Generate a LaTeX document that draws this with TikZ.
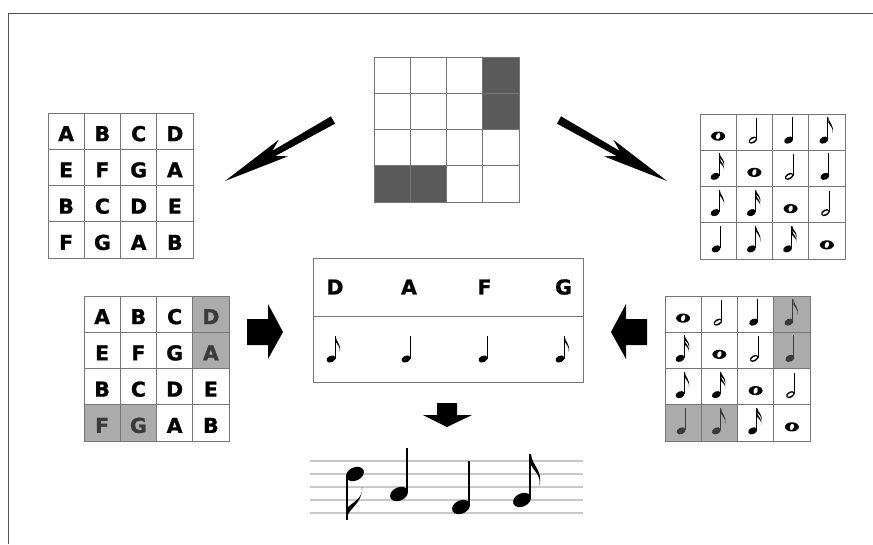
\documentclass[tikz,border=0pt]{standalone}
\usepackage{fontspec}
\setmainfont{Liberation Sans}
\newfontfamily\lettersfont{DejaVu Sans Bold}[FakeBold=1]
\usetikzlibrary{calc}
\definecolor{gridline}{HTML}{767676}
\definecolor{darkcell}{HTML}{5A5A5A}
\definecolor{hlfill}{HTML}{ABABAB}
\definecolor{hltext}{HTML}{3A3A3A}
\definecolor{staffgray}{HTML}{C8C8C8}
\definecolor{framegray}{HTML}{505050}
\newcommand\mqbody{\fill[rotate=25] (0,0) ellipse (4.7 and 3.3); \fill (3.5,-0.5) rectangle (4.5,-23);}
\tikzset{
  gcell/.style={draw=gridline, line width=0.9pt, minimum size=36.25pt, inner sep=0pt, outer sep=0pt,
    font=\lettersfont\fontsize{20.5}{24}\selectfont, text height=20pt, text depth=0pt},
  hlcell/.style={gcell, fill=hlfill, text=hltext},
  darkc/.style={gcell, fill=darkcell},
  boxlabel/.style={font=\lettersfont\fontsize{20.5}{24}\selectfont, inner sep=0pt},
  mainbox/.style={draw=gridline, line width=1pt, minimum width=270pt, minimum height=124pt, inner sep=0pt},
  blockarrow/.style={fill=black},
  staffline/.style={draw=staffgray, line width=1.4pt},
  framestyle/.style={draw=framegray, line width=1pt},
  % note heads with origin at head centre
  hq/.pic={\mqbody},
  hw/.pic={\fill (0,0) ellipse (7 and 4.6); \fill[white, rotate=-20] (0,0) ellipse (2.0 and 3.2);},
  hh/.pic={\fill[rotate=30] (0,0) ellipse (4.7 and 3.1); \fill[white, rotate=30] (0,0) ellipse (3.4 and 1.3);
           \fill (3.4,-0.5) rectangle (4.4,-22);},
  he/.pic={\mqbody \fill (4.5,-23) .. controls (5,-17) and (10.5,-15) .. (8.8,-7) .. controls (9.5,-12.5) and (6,-14.5) .. (4.5,-17.5) -- cycle;},
  hs/.pic={\mqbody
           \fill (4.5,-23) .. controls (5,-18.5) and (10,-17) .. (9,-11) .. controls (9.2,-14.5) and (6.5,-16) .. (4.5,-18.5) -- cycle;
           \fill (4.5,-18.5) .. controls (5,-14) and (10,-12.5) .. (8.8,-6) .. controls (9.2,-10) and (6.5,-11.5) .. (4.5,-14) -- cycle;},
  hedown/.pic={\fill[rotate=25] (0,0) ellipse (4.7 and 3.3); \fill (-4.5,0.5) rectangle (-3.5,23);
           \fill (-4.5,23) .. controls (-3.6,17) and (4,15) .. (3.5,6.5) .. controls (4.3,12.5) and (-2,14.5) .. (-4.5,17.5) -- cycle;},
  % notes placed relative to a cell centre
  cw/.pic={\pic at (0,4) {hw};},
  ch/.pic={\pic at (-1.5,8) {hh};},
  cq/.pic={\pic at (-2,8) {hq};},
  ce/.pic={\pic at (-3,8) {he};},
  cs/.pic={\pic at (-3,8) {hs};},
}
\begin{document}
\begin{tikzpicture}[x=1pt, y=-1pt]
\useasboundingbox (0,0) rectangle (873,544);
% frame
\coordinate (fbl) at (8,544); \coordinate (ftl) at (8,13); \coordinate (ftr) at (873,13);
\draw[framestyle] (fbl) -- (ftl) -- (ftr);

% top centre grid (pattern)
\foreach \r in {1,...,4} \foreach \c in {1,...,4} {
  \pgfmathtruncatemacro\hl{(\r<3)*(\c==4)+(\r==4)*(\c<3)}
  \ifnum\hl>0
    \node[darkc] (tc-\r-\c) at ({374+(\c-0.5)*36.25},{57+(\r-0.5)*36.25}) {};
  \else
    \node[gcell] (tc-\r-\c) at ({374+(\c-0.5)*36.25},{57+(\r-0.5)*36.25}) {};
  \fi
}

% top left letter grid
\foreach \row [count=\r] in {{A,B,C,D},{E,F,G,A},{B,C,D,E},{F,G,A,B}}
  \foreach \l [count=\c] in \row {
    \node[gcell] (tl-\r-\c) at ({48+(\c-0.5)*36.25},{113+(\r-0.5)*36.25}) {\l};
  }

% middle left letter grid (highlighted)
\foreach \row [count=\r] in {{A,B,C,D},{E,F,G,A},{B,C,D,E},{F,G,A,B}}
  \foreach \l [count=\c] in \row {
    \pgfmathtruncatemacro\hl{(\r<3)*(\c==4)+(\r==4)*(\c<3)}
    \ifnum\hl>0
      \node[hlcell] (ml-\r-\c) at ({84+(\c-0.5)*36.25},{296+(\r-0.5)*36.25}) {\l};
    \else
      \node[gcell] (ml-\r-\c) at ({84+(\c-0.5)*36.25},{296+(\r-0.5)*36.25}) {\l};
    \fi
  }

% top right note grid
\foreach \row [count=\r] in {{w,h,q,e},{s,w,h,q},{e,s,w,h},{q,e,s,w}}
  \foreach \n [count=\c] in \row {
    \node[gcell] (tr-\r-\c) at ({700+(\c-0.5)*36.25},{114+(\r-0.5)*36.25}) {};
    \pic at (tr-\r-\c.center) {c\n};
  }

% middle right note grid (highlighted)
\foreach \row [count=\r] in {{w,h,q,e},{s,w,h,q},{e,s,w,h},{q,e,s,w}}
  \foreach \n [count=\c] in \row {
    \pgfmathtruncatemacro\hl{(\r<3)*(\c==4)+(\r==4)*(\c<3)}
    \ifnum\hl>0
      \node[hlcell] (mr-\r-\c) at ({665+(\c-0.5)*36.25},{296+(\r-0.5)*36.25}) {};
      \pic[color=hltext] at (mr-\r-\c.center) {c\n};
    \else
      \node[gcell] (mr-\r-\c) at ({665+(\c-0.5)*36.25},{296+(\r-0.5)*36.25}) {};
      \pic at (mr-\r-\c.center) {c\n};
    \fi
  }

% centre box
\node[mainbox] (box) at (448,320) {};
\coordinate (div) at (0,316);
\draw[draw=gridline, line width=1pt] (box.west |- div) -- (box.east |- div);
\node[boxlabel] (lD) at (335,287) {D};
\node[boxlabel] (lA) at (409,287) {A};
\node[boxlabel] (lF) at (484.5,287) {F};
\node[boxlabel] (lG) at (563.5,287) {G};
\pic at (331,359) {he};
\pic at (406,359) {hq};
\pic at (483,359) {hq};
\pic at (560,359) {he};

% diagonal arrows
\coordinate (ltail) at (333,120);
\coordinate (rtail) at (559,120);
\begin{scope}[shift={(ltail)}, rotate=209.46]
  \fill (0,4.2) -- (68,3) -- (57,9.5) -- (124,0) -- (57,-9.5) -- (68,-3) -- (0,-4.2) -- cycle;
\end{scope}
\begin{scope}[shift={(rtail)}, rotate=-29.46]
  \fill (0,4.2) -- (68,3) -- (57,9.5) -- (124,0) -- (57,-9.5) -- (68,-3) -- (0,-4.2) -- cycle;
\end{scope}

% block arrows
\coordinate (rarr) at (247,319);
\fill[blockarrow] (rarr) -- ++(21,0) -- ++(0,-15) -- ++(15,28) -- ++(-15,27) -- ++(0,-14) -- ++(-21,0) -- cycle;
\coordinate (larr) at (647,319);
\fill[blockarrow] (larr) -- ++(-21,0) -- ++(0,-15) -- ++(-15,28) -- ++(15,27) -- ++(0,-14) -- ++(21,0) -- cycle;
\coordinate (darr) at (437,403);
\fill[blockarrow] (darr) -- ++(20,0) -- ++(0,12) -- ++(15,0) -- ++(-25,12) -- ++(-24,-12) -- ++(14,0) -- cycle;

% staff
\foreach \k in {0,...,4}
  \draw[staffline] (310,{461+13*\k}) -- (583,{461+13*\k});
\pic[scale=2] at (355,474) {hedown};
\pic[scale=2] at (399,494) {hq};
\pic[scale=2] at (461,507) {hq};
\pic[scale=2] at (522,500) {he};
\end{tikzpicture}
\end{document}
